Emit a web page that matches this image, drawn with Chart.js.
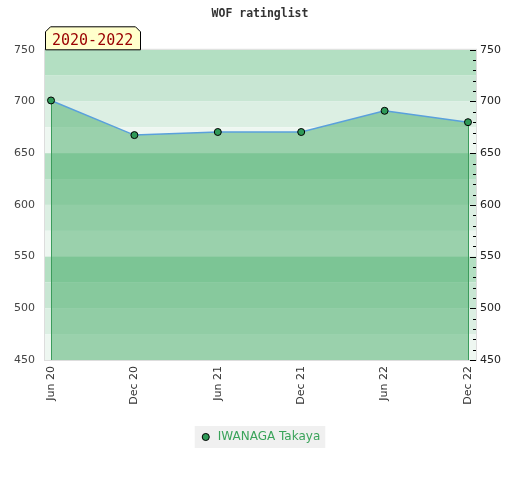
<!DOCTYPE html>
<html>
<head>
<meta charset="utf-8">
<script src="https://cdn.jsdelivr.net/npm/chart.js@4"></script>
<style>
  html, body { margin: 0; padding: 0; background: #fff; }
</style>
</head>
<body>
<canvas id="chart_wrap" width="520" height="480"></canvas>
<script>
// data
const labels = ['Jun 20', 'Dec 20', 'Jun 21', 'Dec 21', 'Jun 22', 'Dec 22'];
const ratings = [701, 667.5, 670.5, 670.5, 691, 680];
const bandColors = ['#b3dfc2', '#c8e6d3', '#dcefe3', '#eef7f1'];
const playerName = 'IWANAGA Takaya';
const periodText = '2020-2022';
const chartTitle = 'WOF ratinglist';
const yMin = 450, yMax = 750;

// background bands, frame, legend box, edge lines, tab, right ticks
const decor = {
  id: 'decor',
  beforeDraw(chart) {
    const { ctx, chartArea: a, scales } = chart;
    const y = scales.y;
    ctx.save();
    for (let v = yMax; v > yMin; v -= 25) {
      const k = ((yMax - v) / 25) % 4;
      const top = y.getPixelForValue(v);
      const bot = y.getPixelForValue(v - 25);
      ctx.fillStyle = bandColors[k];
      ctx.fillRect(a.left, top, a.right - a.left, bot - top);
    }
    ctx.strokeStyle = '#dddddd';
    ctx.lineWidth = 1;
    ctx.strokeRect(a.left - 0.5, a.top - 0.5, a.right - a.left + 1, a.bottom - a.top + 1);

    const hb = chart.legend.legendHitBoxes[0];
    if (hb) {
      ctx.fillStyle = '#f0f0f0';
      ctx.fillRect(hb.left - 5, hb.top - 5, hb.width + 10, hb.height + 10);
    }
    ctx.restore();
  },
  beforeDatasetDraw(chart, args) {
    const { ctx, chartArea: a } = chart;
    const pts = chart.getDatasetMeta(args.index).data;
    ctx.save();
    ctx.strokeStyle = '#3c9c5c';
    ctx.lineWidth = 1;
    [pts[0], pts[pts.length - 1]].forEach(p => {
      const x = Math.round(p.x) + 0.5;
      ctx.beginPath();
      ctx.moveTo(x, p.y);
      ctx.lineTo(x, a.bottom);
      ctx.stroke();
    });
    ctx.restore();
  },
  afterDraw(chart) {
    const { ctx, chartArea: a, scales } = chart;
    ctx.save();
    // tab
    const L = a.left + 0.5, T = a.top;
    ctx.beginPath();
    ctx.moveTo(L, T);
    ctx.lineTo(L, T - 18);
    ctx.lineTo(L + 5, T - 23);
    ctx.lineTo(L + 90, T - 23);
    ctx.lineTo(L + 95, T - 18);
    ctx.lineTo(L + 95, T);
    ctx.closePath();
    ctx.fillStyle = '#ffffcc';
    ctx.fill();
    ctx.strokeStyle = '#000';
    ctx.stroke();
    ctx.fillStyle = '#990000';
    ctx.font = '15px "DejaVu Sans Mono"';
    ctx.textBaseline = 'alphabetic';
    ctx.fillText(periodText, a.left + 7, T - 5);

    // right axis ticks inside the plot
    const y2 = scales.y2;
    ctx.strokeStyle = '#000';
    for (let v = yMin; v <= yMax; v += 10) {
      const py = Math.round(y2.getPixelForValue(v)) + 0.5;
      const len = v % 50 === 0 ? 6 : 3;
      ctx.beginPath();
      ctx.moveTo(a.right - len, py);
      ctx.lineTo(a.right, py);
      ctx.stroke();
    }
    ctx.restore();
  }
};

const ctx = document.getElementById('chart_wrap').getContext('2d');
new Chart(ctx, {
  type: 'line',
  data: {
    datasets: [{
      label: playerName,
      data: ratings.map((v, i) => ({ x: i, y: v })),
      borderColor: '#5aa0dc',
      borderWidth: 1.5,
      backgroundColor: 'rgba(69,171,104,0.5)',
      fill: 'start',
      tension: 0,
      pointRadius: 3.5,
      pointBackgroundColor: '#2f9a58',
      pointBorderColor: '#000',
      pointBorderWidth: 1,
      yAxisID: 'y'
    }]
  },
  options: {
    responsive: false,
    animation: false,
    layout: { padding: { top: 0, left: 0, right: 0, bottom: 27 } },
    plugins: {
      title: {
        display: true,
        text: chartTitle,
        color: '#333',
        font: { family: '"DejaVu Sans Mono"', size: 11.5, weight: 'bold' },
        padding: { top: 7, bottom: 29 }
      },
      legend: {
        position: 'bottom',
        labels: {
          usePointStyle: true,
          boxWidth: 12,
          boxHeight: 5,
          padding: 6,
          color: '#3aa35a',
          font: { family: '"DejaVu Sans"', size: 12 },
          generateLabels: () => [{
            text: playerName,
            pointStyle: 'circle',
            fillStyle: '#2f9a58',
            strokeStyle: '#000',
            lineWidth: 1,
            fontColor: '#3aa35a',
            datasetIndex: 0
          }]
        }
      },
      tooltip: { enabled: false }
    },
    scales: {
      x: {
        type: 'linear',
        min: -0.072,
        max: 5.096,
        grid: { display: false, drawTicks: false },
        border: { display: false },
        afterBuildTicks: s => { s.ticks = labels.map((_, i) => ({ value: i })); },
        afterFit: s => { s.height = 65; },
        ticks: {
          autoSkip: false,
          minRotation: 90,
          maxRotation: 90,
          padding: 6,
          color: '#333',
          font: { family: '"DejaVu Sans"', size: 11 },
          callback: v => labels[v]
        }
      },
      y: {
        position: 'left',
        min: yMin,
        max: yMax,
        grid: { display: false, drawTicks: false },
        border: { display: false },
        afterFit: s => { s.width = 45; },
        ticks: {
          stepSize: 50,
          padding: 10,
          color: '#444',
          font: { family: '"DejaVu Sans"', size: 11 }
        }
      },
      y2: {
        position: 'right',
        min: yMin,
        max: yMax,
        grid: { display: false, drawTicks: false },
        border: { display: false },
        afterFit: s => { s.width = 44; },
        ticks: {
          stepSize: 50,
          padding: 4,
          color: '#222',
          font: { family: '"DejaVu Sans"', size: 11 }
        }
      }
    }
  },
  plugins: [decor]
});
</script>
</body>
</html>
